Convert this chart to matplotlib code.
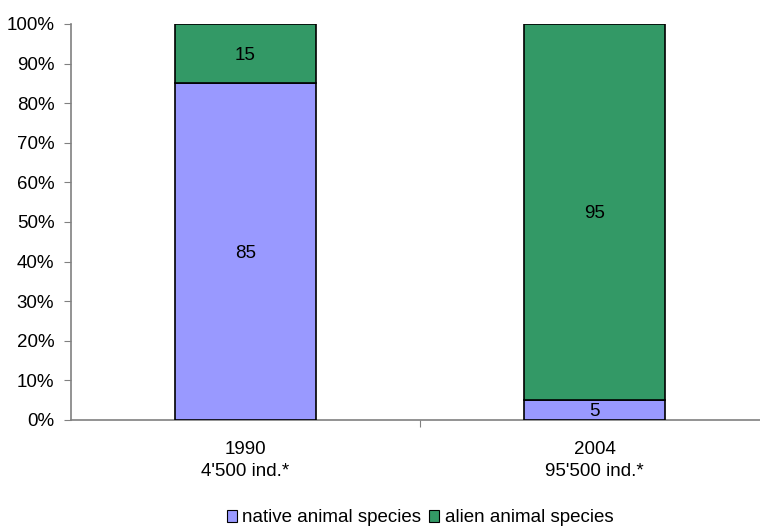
import matplotlib
matplotlib.use("Agg")
import matplotlib.pyplot as plt
from matplotlib.ticker import FixedLocator, PercentFormatter
from matplotlib.patches import Patch

plt.rcParams['font.family'] = ['Liberation Sans', 'DejaVu Sans']

categories = ["1990\n4'500 ind.*", "2004\n95'500 ind.*"]
native = [85, 5]
alien = [15, 95]
series_names = ["native animal species", "alien animal species"]
colors = ["#9999FF", "#339966"]

FS = 13.5

fig = plt.figure(figsize=(7.6, 5.27), dpi=100)
ax = fig.add_axes([71 / 760, 1 - 420 / 527, 698 / 760, (420 - 24) / 527])

x = list(range(len(categories)))
width = 0.404
ax.bar(x, native, width, color=colors[0], edgecolor="black", linewidth=1.2, zorder=3)
ax.bar(x, alien, width, bottom=native, color=colors[1], edgecolor="black", linewidth=1.2, zorder=3)

for i in x:
    ax.text(i, native[i] / 2 - 0.4, str(native[i]), ha="center", va="center", fontsize=FS)
    ax.text(i, native[i] + alien[i] / 2 - 0.4, str(alien[i]), ha="center", va="center", fontsize=FS)

ax.set_xlim(-0.5, 1.5)
ax.set_ylim(0, 100)
ax.yaxis.set_major_locator(FixedLocator(range(0, 101, 10)))
ax.yaxis.set_major_formatter(PercentFormatter(decimals=0))

# category labels sit under the bars, ticks mark boundaries between categories
ax.set_xticks([0.5])
ax.set_xticklabels([""])
ax.set_xticks(x, minor=True)
ax.set_xticklabels(categories, minor=True, fontsize=FS, linespacing=1.4)
ax.tick_params(axis="x", which="minor", length=0, pad=15)
ax.tick_params(axis="x", which="major", length=5, direction="out", color="#808080")
ax.tick_params(axis="y", length=5, direction="out", color="#808080", labelsize=FS, pad=7)

for s in ["top", "right"]:
    ax.spines[s].set_visible(False)
for s in ["left", "bottom"]:
    ax.spines[s].set_color("#808080")
    ax.spines[s].set_linewidth(1.2)

handles = [Patch(facecolor=c, edgecolor="black", linewidth=0.8) for c in colors]
fig.legend(handles, series_names, loc="center", bbox_to_anchor=(420 / 760, 1 - 518 / 527),
           ncol=2, frameon=False, fontsize=FS, handlelength=0.55, handleheight=0.55,
           handletextpad=0.3, columnspacing=0.4, borderaxespad=0)

fig.savefig("out.png", dpi=100)
